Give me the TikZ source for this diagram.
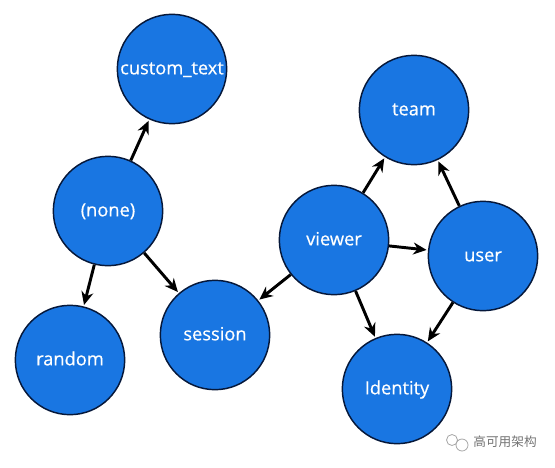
\documentclass[tikz,border=0pt]{standalone}
\usepackage{fontspec}
\setmainfont{Open Sans}
\newfontfamily\labelfont[FakeBold=0.5]{Open Sans}
\newfontfamily\cjkfont{Noto Sans CJK SC}
\usetikzlibrary{arrows.meta}
\definecolor{nodeblue}{HTML}{1976E2}
\definecolor{edgenavy}{HTML}{06183A}
\tikzset{
  table/.style={circle, draw=edgenavy, fill=nodeblue, line width=1.1pt, minimum size=82pt, inner sep=0pt, text=white, text height=10pt, text depth=2pt, font=\labelfont\fontsize{13.7}{16}\selectfont},
  link/.style={-{Stealth[length=10pt,width=9pt]}, line width=2.2pt, black, shorten >=1pt}
}
\begin{document}
\begin{tikzpicture}[x=0.75pt, y=-0.75pt]
  \useasboundingbox (0,0) rectangle (555,467);
  % tables
  \node[table] (customtext) at (172,69) {custom\_text};
  \node[table] (none) at (108,211) {(none)};
  \node[table] (random) at (70,360) {random};
  \node[table] (session) at (215,335) {session};
  \node[table] (viewer) at (334,240) {viewer};
  \node[table] (team) at (414,110) {team};
  \node[table] (user) at (483,256) {user};
  \node[table] (identity) at (397,389) {Identity};
  % links between tables
  \foreach \a/\b in {none/customtext, none/random, none/session, viewer/session, viewer/team, viewer/user, viewer/identity, user/team, user/identity}{
    \draw[link] (\a) -- (\b);
  }
  % watermark
  \node[font=\cjkfont\fontsize{9.5}{11}\selectfont, text=gray!90!black, inner sep=0pt] (mark) at (505,442) {高可用架构};
  \draw[gray!70, line width=0.6pt] (452,440) circle (5.5) (462,445) circle (6);
\end{tikzpicture}
\end{document}
